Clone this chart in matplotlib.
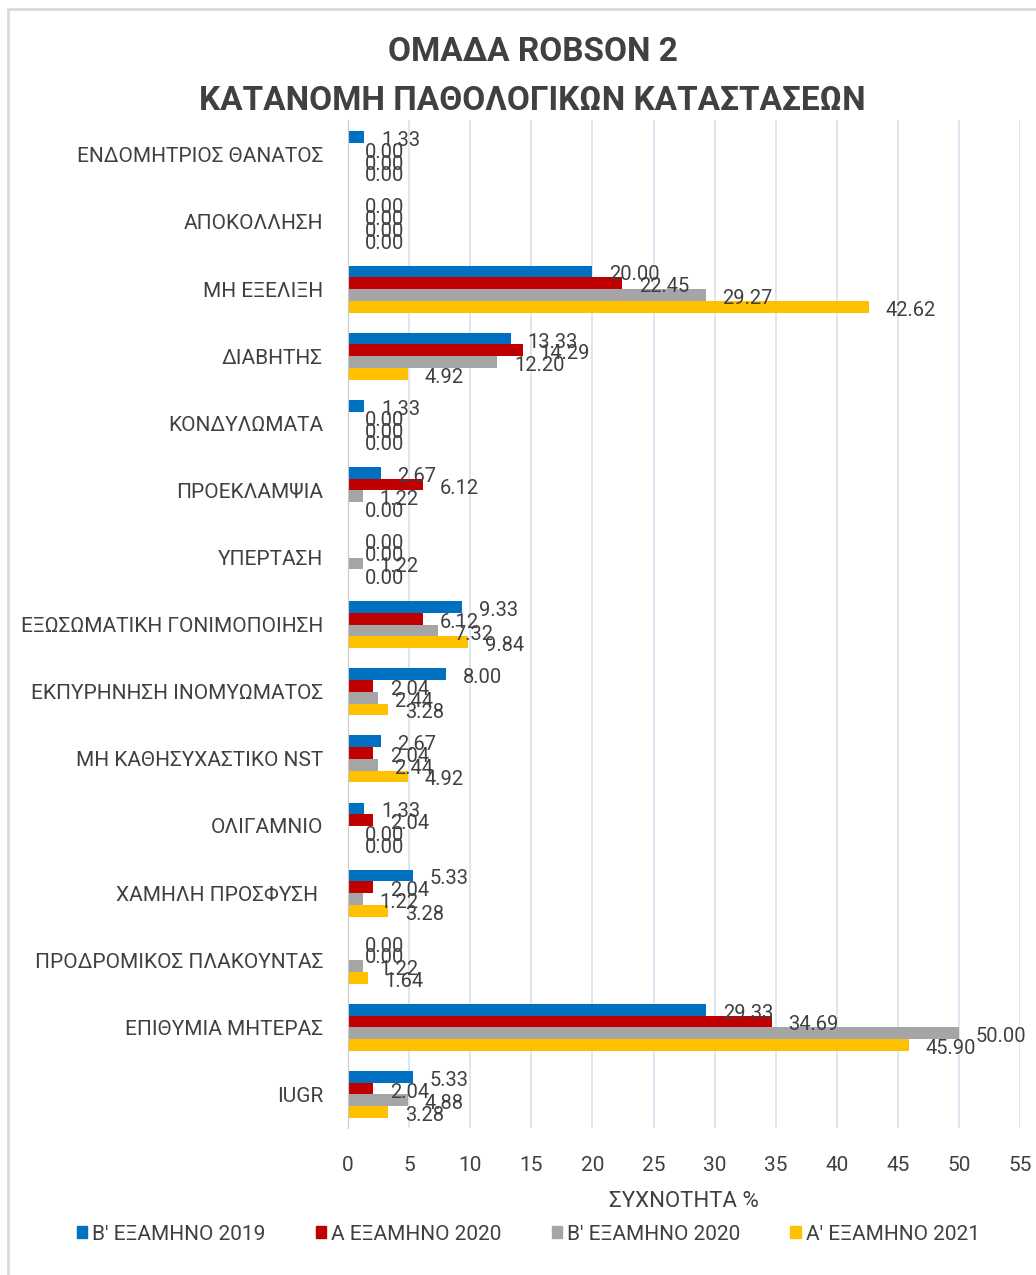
import numpy as np
import matplotlib.pyplot as plt
from matplotlib.patches import Rectangle, Patch

plt.rcParams['font.family'] = ['Roboto', 'DejaVu Sans']

# categories from top to bottom
categories = ['ΕΝΔΟΜΗΤΡΙΟΣ ΘΑΝΑΤΟΣ', 'ΑΠΟΚΟΛΛΗΣΗ', 'ΜΗ ΕΞΕΛΙΞΗ', 'ΔΙΑΒΗΤΗΣ',
              'ΚΟΝΔΥΛΩΜΑΤΑ', 'ΠΡΟΕΚΛΑΜΨΙΑ', 'ΥΠΕΡΤΑΣΗ', 'ΕΞΩΣΩΜΑΤΙΚΗ ΓΟΝΙΜΟΠΟΙΗΣΗ',
              'ΕΚΠΥΡΗΝΗΣΗ ΙΝΟΜΥΩΜΑΤΟΣ', 'ΜΗ ΚΑΘΗΣΥΧΑΣΤΙΚΟ NST', 'ΟΛΙΓΑΜΝΙΟ',
              'ΧΑΜΗΛΗ ΠΡΟΣΦΥΣΗ ', 'ΠΡΟΔΡΟΜΙΚΟΣ ΠΛΑΚΟΥΝΤΑΣ', 'ΕΠΙΘΥΜΙΑ ΜΗΤΕΡΑΣ', 'IUGR']

b_2019 = [1.33, 0.00, 20.00, 13.33, 1.33, 2.67, 0.00, 9.33, 8.00, 2.67, 1.33, 5.33, 0.00, 29.33, 5.33]
a_2020 = [0.00, 0.00, 22.45, 14.29, 0.00, 6.12, 0.00, 6.12, 2.04, 2.04, 2.04, 2.04, 0.00, 34.69, 2.04]
b_2020 = [0.00, 0.00, 29.27, 12.20, 0.00, 1.22, 1.22, 7.32, 2.44, 2.44, 0.00, 1.22, 1.22, 50.00, 4.88]
a_2021 = [0.00, 0.00, 42.62, 4.92, 0.00, 0.00, 0.00, 9.84, 3.28, 4.92, 0.00, 3.28, 1.64, 45.90, 3.28]

series_names = ["Β' ΕΞΑΜΗΝΟ 2019", 'Α ΕΞΑΜΗΝΟ 2020', "Β' ΕΞΑΜΗΝΟ 2020", "Α' ΕΞΑΜΗΝΟ 2021"]
series = [b_2019, a_2020, b_2020, a_2021]
colors = ['#0070C0', '#C00000', '#A5A5A5', '#FFC000']

text_color = '#404040'

fig = plt.figure(figsize=(10.36, 12.75), dpi=100)
ax = fig.add_axes([0.336, 0.1153, 0.6486, 0.7906])

y = np.arange(len(categories))
h = 0.175
for j, (vals, c) in enumerate(zip(series, colors)):
    pos = y + (j - 1.5) * h
    ax.barh(pos, vals, height=h, color=c, zorder=3)
    # data labels, outside end
    for v, p in zip(vals, pos):
        ax.annotate(f'{v:.2f}', (v, p), xytext=(12, -2.5), textcoords='offset points',
                    ha='left', va='center', fontsize=14.5, color=text_color, zorder=4)

ax.set_xlim(0, 55)
ax.set_ylim(len(categories) - 0.5, -0.52)
ax.set_xticks(np.arange(0, 56, 5))
ax.set_yticks(y)
ax.set_yticklabels(categories)
ax.tick_params(axis='both', length=0, labelsize=15, colors=text_color)
ax.tick_params(axis='y', pad=18)
ax.tick_params(axis='x', pad=20)
ax.grid(axis='x', color='#D5E3F0', linewidth=1.2, zorder=0)
for s in ['top', 'right', 'bottom']:
    ax.spines[s].set_visible(False)
ax.spines['left'].set_color('#C8C8C8')
ax.spines['left'].set_zorder(5)

ax.set_xlabel('ΣΥΧΝΟΤΗΤΑ %', fontsize=16, color=text_color, labelpad=12)

fig.text(0.514, 0.959, 'ΟΜΑΔΑ ROBSON 2', ha='center', va='center',
         fontsize=24, fontweight='bold', color=text_color)
fig.text(0.514, 0.921, 'ΚΑΤΑΝΟΜΗ ΠΑΘΟΛΟΓΙΚΩΝ ΚΑΤΑΣΤΑΣΕΩΝ', ha='center', va='center',
         fontsize=24, fontweight='bold', color=text_color)

handles = [Patch(color=c) for c in colors]
fig.legend(handles, series_names, loc='center', bbox_to_anchor=(0.51, 0.032), ncol=4,
           frameon=False, fontsize=15, labelcolor=text_color, handlelength=0.5,
           handleheight=0.5, handletextpad=0.25, columnspacing=2.4)

# chart border
fig.patches.append(Rectangle((8 / 1036, -0.1), 2, 1.1 - 9 / 1275, transform=fig.transFigure,
                             fill=False, edgecolor='#D9D9D9', linewidth=2))

fig.savefig('out.png', dpi=100)
